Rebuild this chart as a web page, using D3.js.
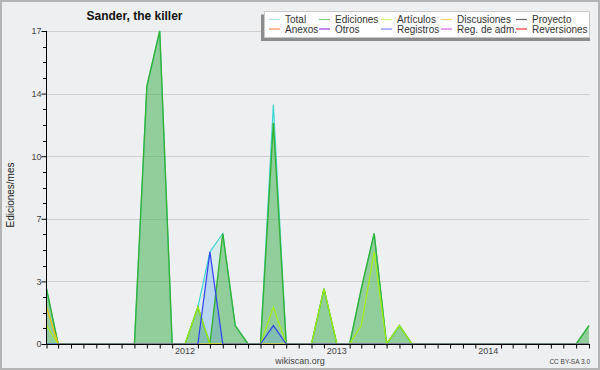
<!DOCTYPE html>
<html>
<head>
<meta charset="utf-8">
<script src="https://cdn.jsdelivr.net/npm/d3@7"></script>
<style>
body { margin: 0; background: #fff; }
svg { display: block; font-family: "Liberation Sans", Arial, sans-serif; }
</style>
</head>
<body>
<div id="chart"></div>
<script>
var svgWidth = 600;
var svgHeight = 370;

// one entry per month, Feb 2011 .. Sep 2014
var months = ["2011-02","2011-03","2011-04","2011-05","2011-06","2011-07","2011-08","2011-09","2011-10","2011-11","2011-12",
  "2012-01","2012-02","2012-03","2012-04","2012-05","2012-06","2012-07","2012-08","2012-09","2012-10","2012-11","2012-12",
  "2013-01","2013-02","2013-03","2013-04","2013-05","2013-06","2013-07","2013-08","2013-09","2013-10","2013-11","2013-12",
  "2014-01","2014-02","2014-03","2014-04","2014-05","2014-06","2014-07","2014-08","2014-09"];

var total       = [3,0,0,0,0,0,0,0,14,17,0, 0,2,5,6,1,0,0,13,0,0,0,3, 0,0,3,6,0,1,0,0,0,0,0,0, 0,0,0,0,0,0,0,0,1];
var ediciones   = [3,0,0,0,0,0,0,0,14,17,0, 0,2,0,6,1,0,0,12,0,0,0,3, 0,0,3,6,0,1,0,0,0,0,0,0, 0,0,0,0,0,0,0,0,1];
var articulos   = [1,0,0,0,0,0,0,0,0,0,0,   0,2,0,0,0,0,0,2,0,0,0,3,  0,0,1,5,0,1,0,0,0,0,0,0, 0,0,0,0,0,0,0,0,0];
var discusiones = [2,0,0,0,0,0,0,0,0,0,0,   0,0,0,0,0,0,0,0,0,0,0,0,  0,0,0,0,0,0,0,0,0,0,0,0, 0,0,0,0,0,0,0,0,0];
var registros   = [0,0,0,0,0,0,0,0,0,0,0,   0,0,5,0,0,0,0,1,0,0,0,0,  0,0,0,0,0,0,0,0,0,0,0,0, 0,0,0,0,0,0,0,0,0];

var yMax = 17;
var yTickLabels = ["0", "3", "7", "10", "14", "17"];
var yearLabels = ["2012", "2013", "2014"];

var legendLabels = ["Total", "Ediciones", "Artículos", "Discusiones", "Proyecto",
                    "Anexos", "Otros", "Registros", "Reg. de adm.", "Reversiones"];
var legendColors = ["#a8e4e4", "#7fcf7f", "#d4f27a", "#ffd27a", "#6a6a6a",
                    "#ff8a50", "#9a40f0", "#8080ff", "#e060e8", "#ee3030"];

var parseMonth = d3.timeParse("%Y-%m");
var dates = months.map(parseMonth);

var svg = d3.select("#chart").append("svg")
    .attr("width", svgWidth)
    .attr("height", svgHeight);

svg.append("rect")
    .attr("x", 1).attr("y", 1)
    .attr("width", svgWidth - 2).attr("height", svgHeight - 2)
    .attr("fill", "#eeeff0")
    .attr("stroke", "#b4b4b4")
    .attr("stroke-width", 2);

var xScale = d3.scaleTime()
    .domain(d3.extent(dates))
    .range([46.5, 589]);
var yScale = d3.scaleLinear()
    .domain([0, yMax])
    .range([344, 31]);

// grid
var yTicks = yTickLabels.map(function(d, i) { return yMax * i / (yTickLabels.length - 1); });
svg.append("g").selectAll("line")
    .data(yTicks.slice(1))
    .enter().append("line")
    .attr("x1", 46.5).attr("x2", 590)
    .attr("y1", function(d) { return Math.round(yScale(d)) + 0.5; })
    .attr("y2", function(d) { return Math.round(yScale(d)) + 0.5; })
    .attr("stroke", "#cfcfcf");

function areaOf(values) {
    return d3.area()
        .x(function(d, i) { return xScale(dates[i]); })
        .y0(yScale(0))
        .y1(function(d) { return yScale(d); })(values);
}
function lineOf(values) {
    return d3.line()
        .x(function(d, i) { return xScale(dates[i]); })
        .y(function(d) { return yScale(d); })(values);
}

svg.append("path").attr("d", areaOf(total)).attr("fill", "rgba(64,210,200,0.13)");
svg.append("path").attr("d", areaOf(ediciones)).attr("fill", "rgba(60,170,60,0.45)");
svg.append("path").attr("d", areaOf(registros)).attr("fill", "rgba(80,140,255,0.22)");

svg.append("path").attr("d", lineOf(total)).attr("fill", "none").attr("stroke", "#3cd6d0").attr("stroke-width", 1.2);
svg.append("path").attr("d", lineOf(ediciones)).attr("fill", "none").attr("stroke", "#34b234").attr("stroke-width", 1.4);
svg.append("path").attr("d", lineOf(articulos)).attr("fill", "none").attr("stroke", "#a8ee10").attr("stroke-width", 1.2);
svg.append("path").attr("d", lineOf(discusiones)).attr("fill", "none").attr("stroke", "#f4c000").attr("stroke-width", 1.2);
svg.append("path").attr("d", lineOf(registros)).attr("fill", "none").attr("stroke", "#3040f0").attr("stroke-width", 1.2);

// y axis
var leftAxis = d3.axisLeft(yScale)
    .tickValues(yTicks)
    .tickSize(5)
    .tickFormat(function(d, i) { return yTickLabels[i]; });
var yAxisG = svg.append("g")
    .attr("transform", "translate(46.5,0)")
    .call(leftAxis);
yAxisG.select(".domain").attr("d", "M0,31V344").attr("stroke", "#000");
yAxisG.selectAll("text").attr("font-size", 9).attr("fill", "#444").attr("font-family", "Liberation Sans, Arial").attr("x", -5);
yAxisG.selectAll(".tick line").attr("stroke", "#000");

var minor = d3.range(0, 21).map(function(i) { return yMax * i / 20; })
    .filter(function(d, i) { return i % 4 !== 0; });
svg.append("g").selectAll("line")
    .data(minor)
    .enter().append("line")
    .attr("x1", 43).attr("x2", 46.5)
    .attr("y1", function(d) { return Math.round(yScale(d)) + 0.5; })
    .attr("y2", function(d) { return Math.round(yScale(d)) + 0.5; })
    .attr("stroke", "#000");

// x axis: monthly ticks, year label instead of January tick
var bottomAxis = d3.axisBottom(xScale)
    .tickValues(dates.filter(function(d) { return d.getMonth() !== 0; }))
    .tickSize(4)
    .tickFormat("");
var xAxisG = svg.append("g")
    .attr("transform", "translate(0,344.5)")
    .call(bottomAxis);
xAxisG.select(".domain").attr("d", "M46.5,0H590").attr("stroke", "#000");
xAxisG.selectAll(".tick line").attr("stroke", "#000");

svg.append("g").selectAll("text")
    .data(yearLabels)
    .enter().append("text")
    .attr("x", function(d) { return xScale(parseMonth(d + "-01")); })
    .attr("y", 354)
    .attr("text-anchor", "middle")
    .attr("font-size", 9)
    .attr("fill", "#444")
    .text(function(d) { return d; });

svg.append("text")
    .attr("transform", "translate(13.5,195)rotate(-90)")
    .attr("text-anchor", "middle")
    .attr("font-size", 10)
    .attr("fill", "#222")
    .text("Ediciones/mes");

svg.append("text")
    .attr("x", 134.5).attr("y", 20)
    .attr("text-anchor", "middle")
    .attr("font-size", 12)
    .attr("font-weight", "bold")
    .attr("fill", "#111")
    .text("Sander, the killer");

svg.append("text")
    .attr("x", 300).attr("y", 363.5)
    .attr("text-anchor", "middle")
    .attr("font-size", 9)
    .attr("fill", "#444")
    .text("wikiscan.org");

svg.append("text")
    .attr("x", 590).attr("y", 364)
    .attr("text-anchor", "end")
    .attr("font-size", 6.5)
    .attr("fill", "#444")
    .text("CC BY-SA 3.0");

// legend
var legend = svg.append("g");
legend.append("rect")
    .attr("x", 261).attr("y", 14.5).attr("width", 329).attr("height", 26.5)
    .attr("fill", "#8c8c8c");
legend.append("rect")
    .attr("x", 264.5).attr("y", 11.5).attr("width", 325).attr("height", 26)
    .attr("fill", "#fff")
    .attr("stroke", "#c8c8c8");

var colX = [285, 335, 397, 457, 532];
var rowY = [23, 32.5];
var items = legend.selectAll("g.item")
    .data(legendLabels)
    .enter().append("g")
    .attr("transform", function(d, i) {
        return "translate(" + colX[i % 5] + "," + rowY[Math.floor(i / 5)] + ")";
    });
items.append("line")
    .attr("x1", -16).attr("x2", -5)
    .attr("y1", -3.5).attr("y2", -3.5)
    .attr("stroke", function(d, i) { return legendColors[i]; })
    .attr("stroke-width", 1.2);
items.append("text")
    .attr("font-size", 10)
    .attr("fill", "#333")
    .text(function(d) { return d; });
</script>
</body>
</html>
